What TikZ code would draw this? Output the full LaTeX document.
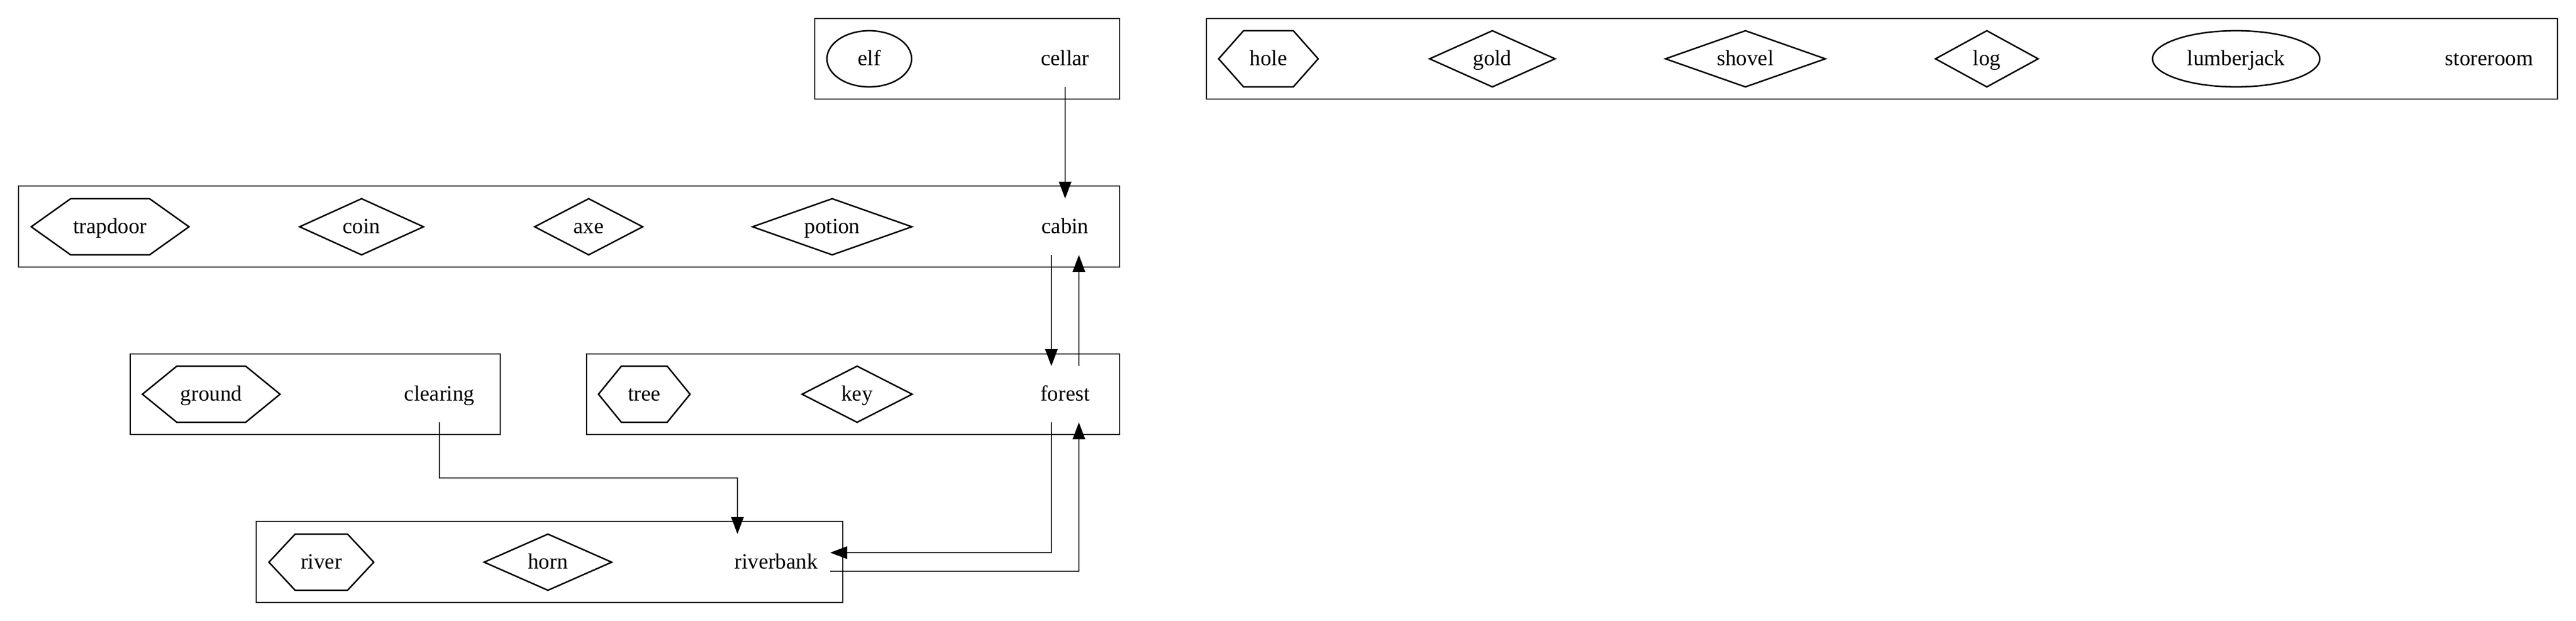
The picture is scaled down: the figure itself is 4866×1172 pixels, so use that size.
\documentclass[tikz,border=0pt]{standalone}
\usepackage{fontspec}
\setmainfont{Liberation Serif}
\usetikzlibrary{arrows.meta,calc,shapes.geometric}
\def\U{0.3413pt}
\newcommand\myhex[1]{\draw[shapeline] (#1.west) -- ($(#1.north west)!.25!(#1.north east)$) -- ($(#1.north west)!.75!(#1.north east)$) -- (#1.east) -- ($(#1.south west)!.75!(#1.south east)$) -- ($(#1.south west)!.25!(#1.south east)$) -- cycle;}
\newcommand\mydiam[1]{\draw[shapeline] (#1.west) -- (#1.north) -- (#1.east) -- (#1.south) -- cycle;}
\tikzset{
  base/.style={font=\fontsize{14pt}{16pt}\selectfont, inner sep=0pt, outer sep=0pt, minimum height=106*\U, text height=11pt, text depth=2.2pt},
  box/.style={base, rectangle},
  oval/.style={base, ellipse, draw, line width=0.95pt},
  plain/.style={base, inner xsep=8pt, minimum width=54pt},
  shapeline/.style={line width=0.95pt, line join=miter},
  cluster/.style={draw, line width=0.95pt},
  arr/.style={line width=0.95pt, -{Triangle[length=11pt,width=8pt]}}
}
\begin{document}
\begin{tikzpicture}[x=0.3413pt, y=-0.3413pt]
\useasboundingbox (0,0) rectangle (4866,1172);
% clusters
\draw[cluster] (1539,35) rectangle (2115,187);
\draw[cluster] (2279,35) rectangle (4831,187);
\draw[cluster] (35,351) rectangle (2115,504);
\draw[cluster] (246,668) rectangle (945,820);
\draw[cluster] (1108,668) rectangle (2115,820);
\draw[cluster] (484,984) rectangle (1592,1137);
% row 1
\node[oval, minimum width=160*\U] (elf) at (1642,111) {elf};
\node[plain] (cellar) at (2012,111) {cellar};
\node[box, minimum width=188*\U] (hole) at (2396,111) {hole};
\node[box, minimum width=237*\U] (gold) at (2819,111) {gold};
\node[box, minimum width=302*\U] (shovel) at (3297,111) {shovel};
\node[box, minimum width=194*\U] (log) at (3753,111) {log};
\node[oval, minimum width=316*\U] (lumberjack) at (4224,111) {lumberjack};
\node[plain] (storeroom) at (4702,111) {storeroom};
% row 2
\node[box, minimum width=298*\U] (trapdoor) at (208,428) {trapdoor};
\node[box, minimum width=234*\U] (coin) at (683,428) {coin};
\node[box, minimum width=204*\U] (axe) at (1112,428) {axe};
\node[box, minimum width=301*\U] (potion) at (1572,428) {potion};
\node[plain] (cabin) at (2012,428) {cabin};
% row 3
\node[box, minimum width=260*\U] (ground) at (399,744) {ground};
\node[plain] (clearing) at (830,744) {clearing};
\node[box, minimum width=173*\U] (tree) at (1217,744) {tree};
\node[box, minimum width=208*\U] (key) at (1619,744) {key};
\node[plain] (forest) at (2012,744) {forest};
% row 4
\node[box, minimum width=198*\U] (river) at (607,1061) {river};
\node[box, minimum width=241*\U] (horn) at (1035,1061) {horn};
\node[plain] (riverbank) at (1466,1061) {riverbank};
% shapes
\myhex{hole}
\myhex{trapdoor}
\myhex{ground}
\myhex{tree}
\myhex{river}
\mydiam{gold}
\mydiam{shovel}
\mydiam{log}
\mydiam{coin}
\mydiam{axe}
\mydiam{potion}
\mydiam{key}
\mydiam{horn}
% edges
\draw[arr] (cellar.south) -- (cabin.north);
\draw[arr] ($(cabin.south)+(-26,0)$) -- ($(forest.north)+(-26,0)$);
\draw[arr] ($(forest.north)+(26,0)$) -- ($(cabin.south)+(26,0)$);
\draw[arr] ($(forest.south)+(-26,0)$) |- ($(riverbank.east)+(0,-18)$);
\draw[arr] ($(riverbank.east)+(0,17)$) -| ($(forest.south)+(26,0)$);
\draw[arr] (clearing.south) -- ++(0,105) -| ($(riverbank.north)+(-73,0)$);
\end{tikzpicture}
\end{document}
